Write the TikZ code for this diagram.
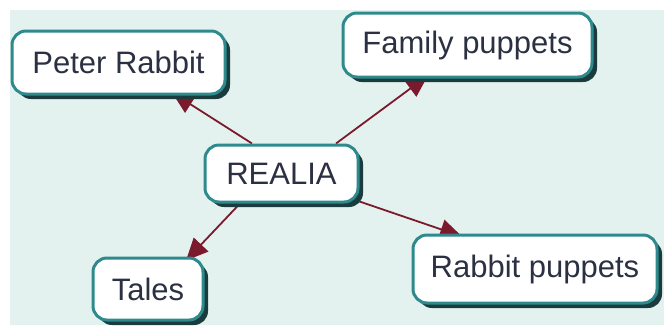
\documentclass[tikz,border=0pt]{standalone}
\usepackage{fontspec}
\setmainfont{Liberation Sans}
\usetikzlibrary{shadows,arrows.meta,calc,backgrounds}
\definecolor{bgmint}{HTML}{E4F2EF}
\definecolor{boxteal}{HTML}{2E8A8C}
\definecolor{shadowcol}{HTML}{1A3C3E}
\definecolor{txtcol}{HTML}{2B3142}
\definecolor{linkred}{HTML}{7A1A2C}
\begin{document}
\begin{tikzpicture}[x=1pt,y=-1pt,
  concept/.style={draw=boxteal, line width=3pt, fill=white, rounded corners=14pt,
    text=txtcol, font=\fontsize{31}{36}\selectfont, inner sep=0pt, align=center,
    drop shadow={shadow xshift=5pt, shadow yshift=-5pt, fill=shadowcol, opacity=1}},
  link/.style={draw=linkred, line width=1.8pt, -{Triangle[length=22pt,width=20pt]}}]
\useasboundingbox (0,0) rectangle (664,325);
\node[concept, minimum width=213pt, minimum height=63pt] (peter) at (118.5,62.5) {Peter Rabbit};
\node[concept, minimum width=249pt, minimum height=64pt] (family) at (467.5,45) {Family puppets};
\node[concept, minimum width=153pt, minimum height=57pt] (realia) at (281.5,173.5) {REALIA};
\node[concept, minimum width=244pt, minimum height=68pt] (rabbit) at (535,269) {Rabbit puppets};
\node[concept, minimum width=110pt, minimum height=62pt] (tales) at (148,289) {Tales};
\begin{pgfonlayer}{background}
  \fill[bgmint] (10,10) rectangle (664,325);
  \draw[link] ($(realia.north)+(-29.5,0)$) -- ($(peter.south)+(53.5,-3)$);
  \draw[link] ($(realia.north)+(54.5,0)$) -- ($(family.south)+(-39.5,-3)$);
  \draw[link] ($(realia.south east)+(0,-2)$) -- ($(rabbit.north)+(-73,3)$);
  \draw[link] ($(realia.south)+(-41.5,0)$) -- ($(tales.north)+(38,4)$);
\end{pgfonlayer}
\end{tikzpicture}
\end{document}
